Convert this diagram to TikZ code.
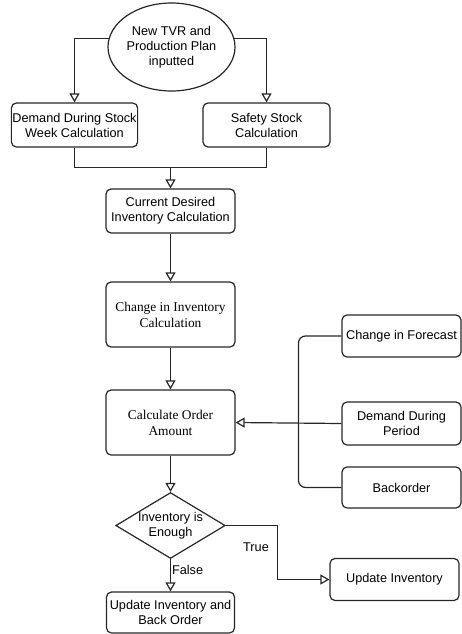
\documentclass[tikz,border=0pt]{standalone}
\usepackage{fontspec}
\newfontfamily\sansf{Liberation Sans}
\newfontfamily\seriff{Liberation Serif}
\usetikzlibrary{arrows.meta,positioning,shapes.geometric}

\begin{document}
\begin{tikzpicture}[
    x=1pt,y=-1pt,
    proc/.style={draw=black!85, line width=1.2pt, rounded corners=5pt, align=center,
                 font=\sansf\fontsize{12.7}{15}\selectfont, inner sep=1pt},
    proct/.style={proc, font=\seriff\fontsize{13.4}{16}\selectfont},
    start/.style={draw=black!85, line width=1.2pt, ellipse, align=center, inner sep=0pt,
                  font=\sansf\fontsize{12.7}{15}\selectfont},
    decide/.style={draw=black!85, line width=1.2pt, diamond, aspect=1.66, align=center, inner sep=0pt,
                   font=\sansf\fontsize{12.7}{15}\selectfont},
    line/.style={draw=black!85, line width=1.2pt},
    arrow/.style={line, -{Triangle[open, length=9pt, width=10pt]}},
    lbl/.style={font=\sansf\fontsize{12.7}{15}\selectfont, inner sep=1pt}
]
\useasboundingbox (0,0) rectangle (462,634);

% Input and first calculations
\node[start, minimum width=127, minimum height=88] (tvr) at (171.5,47) {New TVR and\\Production Plan\\inputted};
\node[proc, minimum width=125, minimum height=44] (dds) at (74.5,125) {Demand During Stock\\Week Calculation};
\node[proc, minimum width=127, minimum height=44] (ss) at (266.5,125) {Safety Stock\\Calculation};
\draw[arrow] (tvr.172) -| (dds.north);
\draw[arrow] (tvr.8) -| (ss.north);

% Merge into desired inventory
\coordinate (merge) at (170.5,167.5);
\node[proc, minimum width=129, minimum height=44] (cdi) at (170.5,211) {Current Desired\\Inventory Calculation};
\draw[line] (dds.south) |- (merge);
\draw[line] (ss.south) |- (merge);
\draw[arrow] (merge) -- (cdi.north);

% Main chain
\node[proct, minimum width=129, minimum height=65] (cic) at (170.5,314.5) {Change in Inventory\\Calculation};
\node[proct, minimum width=129, minimum height=65] (coa) at (170.5,422.5) {Calculate Order\\Amount};
\draw[arrow] (cdi.south) -- (cic.north);
\draw[arrow] (cic.south) -- (coa.north);

% Side inputs
\node[proc, minimum width=119, minimum height=42] (cf) at (401.5,336) {Change in Forecast};
\node[proc, minimum width=119, minimum height=43] (ddp) at (401.5,423.5) {Demand During\\Period};
\node[proc, minimum width=119, minimum height=41] (bo) at (401.5,487.5) {Backorder};
\coordinate (bus) at (298.5,423.5);
\draw[line, rounded corners=7pt] (cf.west) -| (bus);
\draw[line, rounded corners=7pt] (bo.west) -| (bus);
\draw[arrow] (ddp.west) -- (coa.east);

% Decision
\node[decide, minimum width=106, minimum height=64] (inv) at (170.5,525.5) {Inventory is\\Enough};
\draw[arrow] (coa.south) -- (inv.north);
\node[proc, minimum width=128, minimum height=41] (uib) at (170.5,612.5) {Update Inventory and\\Back Order};
\node[proc, minimum width=129, minimum height=42] (ui) at (394.5,579.5) {Update Inventory};
\coordinate (bend) at (277.5,525.5);
\draw[arrow] (inv.south) -- node[lbl, right, pos=0.35] {False} (uib.north);
\draw[arrow] (inv.east) -- (bend) |- (ui.west);
\node[lbl] (truelbl) at (256,547) {True};
\end{tikzpicture}
\end{document}
